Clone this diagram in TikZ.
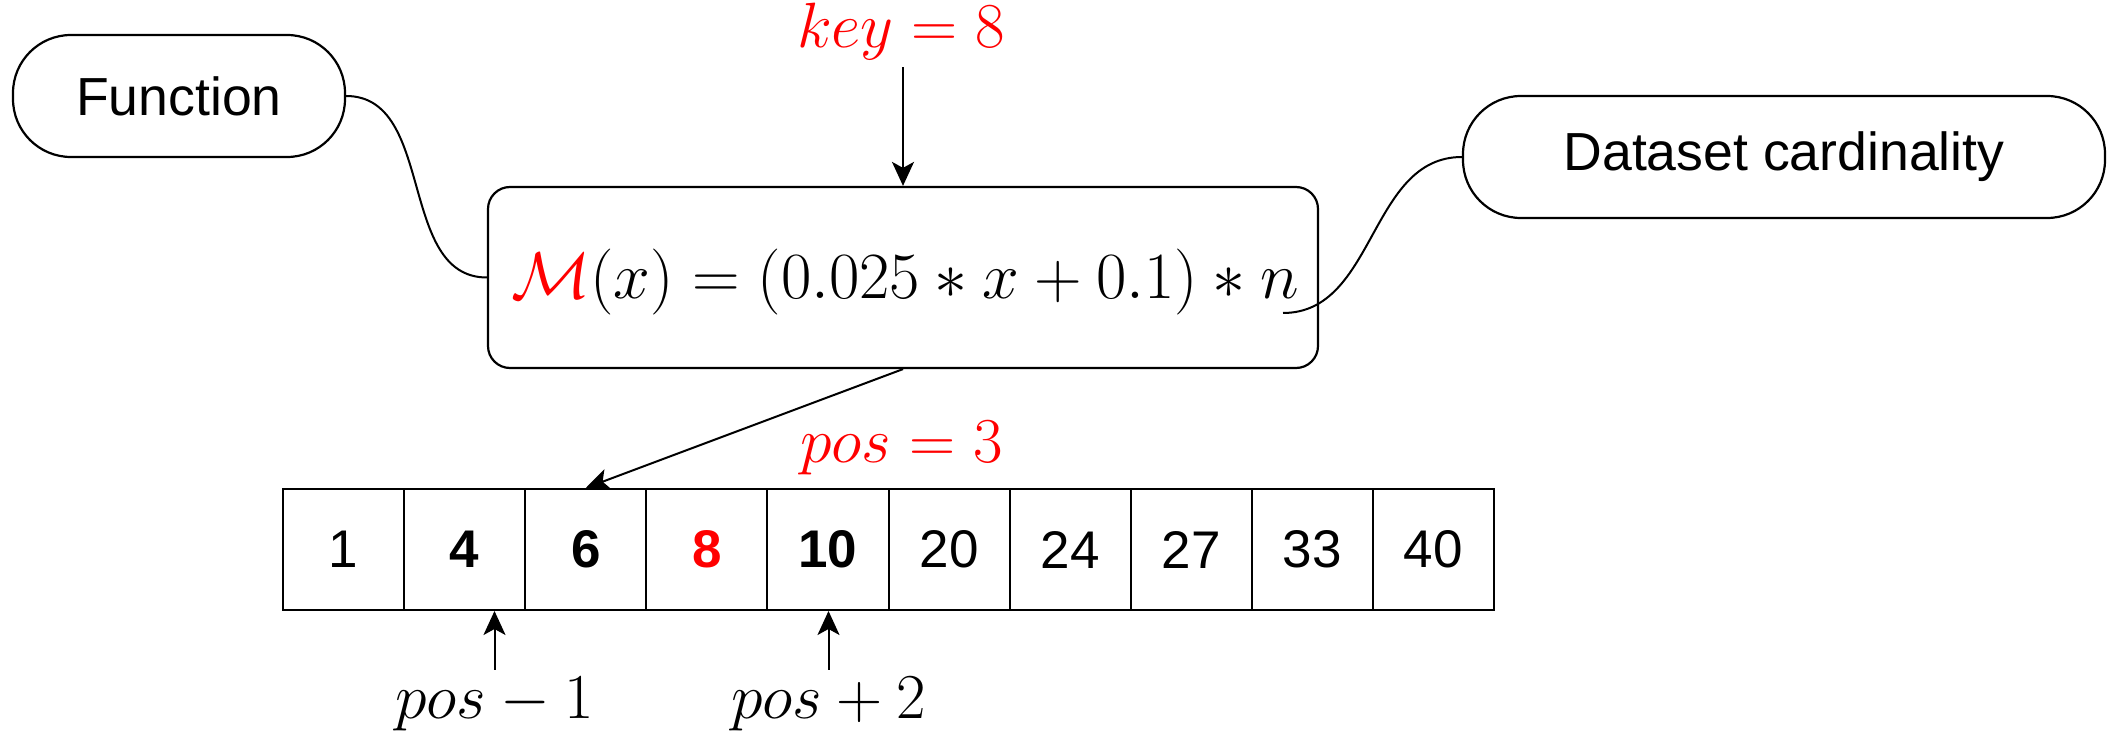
\RequirePackage{fix-cm}
\documentclass[tikz,border=0pt]{standalone}
\usepackage[no-math]{fontspec}
\newfontfamily\sansfam{Liberation Sans}
\usetikzlibrary{arrows.meta}
\begin{document}
\begin{tikzpicture}[x=0.5pt,y=-0.5pt,
  line width=1pt,
  pill/.style={draw, line width=1.1pt, rounded corners=29pt, minimum height=61pt, inner sep=0pt, font=\sansfam\fontsize{26.8}{32}\selectfont},
  fbox/.style={draw, line width=1.1pt, rounded corners=11pt, minimum width=415pt, minimum height=90.5pt, inner sep=0pt},
  cell/.style={draw, line width=1pt, minimum width=60.55pt, minimum height=60.5pt, inner sep=0pt, font=\sansfam\fontsize{26.5}{32}\selectfont},
  lbl/.style={inner sep=3pt, font=\fontsize{32}{38}\selectfont},
  arr/.style={-{Stealth[length=12pt,width=11pt,inset=3pt]}, line width=1pt},
  conn/.style={line width=1pt}]
\useasboundingbox (0,0) rectangle (2109,732);
\node[pill, minimum width=166pt] (func) at (179,96) {Function};
\node[pill, minimum width=321pt] (data) at (1784,157) {Dataset cardinality};
\node[fbox] (box) at (903,277.5) {};
\node[inner sep=0pt, font=\fontsize{33}{40}\selectfont] (fx) at (905,282) {$\textcolor{red}{\mathcal{M}}(x)=(0.025*x+0.1)*n$};
\coordinate (nend) at (1283,313);
\node[lbl, text=red, anchor=base] (key) at (901,48) {$key=8$};
\node[lbl, text=red, anchor=base] (pos) at (901.5,462.7) {$pos=3$};
\node[lbl, anchor=base] (pm) at (494.5,718) {$pos-1$};
\node[lbl, anchor=base] (pp) at (828.5,718) {$pos+2$};
\node[cell] (c1) at (343.55,549.5) {1};
\node[cell] (c2) at (464.65,549.5) {\bfseries 4};
\node[cell] (c3) at (585.75,549.5) {\bfseries 6};
\node[cell, text=red] (c4) at (706.85,549.5) {\bfseries 8};
\node[cell] (c5) at (827.95,549.5) {\bfseries 10};
\node[cell] (c6) at (949.05,549.5) {20};
\node[cell] (c7) at (1070.15,549.5) {24};
\node[cell] (c8) at (1191.25,549.5) {27};
\node[cell] (c9) at (1312.35,549.5) {33};
\node[cell] (c10) at (1433.45,549.5) {40};
\draw[arr] (box.north |- key.south) -- (box.north);
\draw[conn] (func.east) to[out=0,in=180] (box.west);
\draw[conn] (nend) to[out=0,in=180] (data.west);
\draw[arr] (box.south) -- (c3.north);
\draw[arr] (pm.north) -- (pm.north |- c2.south);
\draw[arr] (pp.north) -- (pp.north |- c5.south);
\end{tikzpicture}
\end{document}
